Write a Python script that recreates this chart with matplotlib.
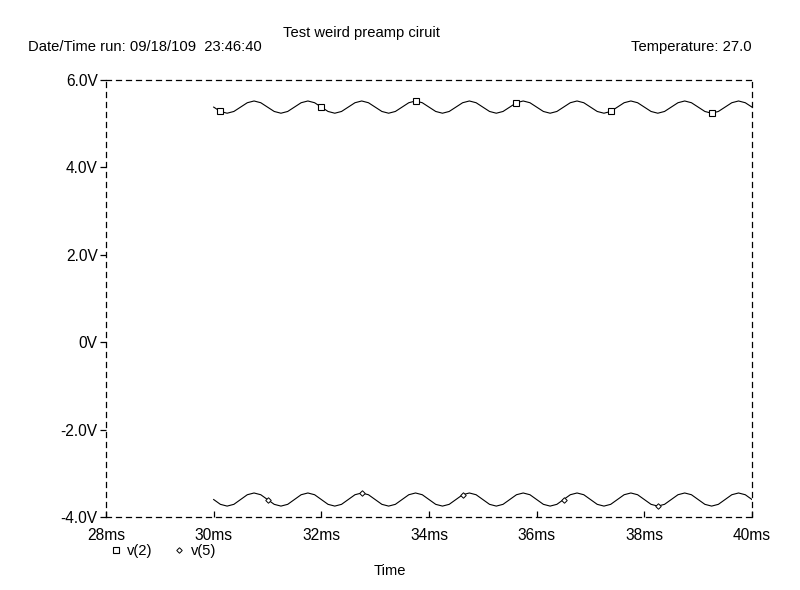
import numpy as np
import matplotlib.pyplot as plt
from matplotlib.lines import Line2D

plt.rcParams['font.family'] = ['Liberation Sans', 'DejaVu Sans']
plt.rcParams['font.size'] = 10.6

# sample times, one value every 1/8 ms from 30ms to 40ms
t_ms = np.arange(30.0, 40.0001, 0.125)

# v(2), one row per ms
v2 = [5.38, 5.28, 5.24, 5.28, 5.38, 5.48, 5.52, 5.48,
      5.38, 5.28, 5.24, 5.28, 5.38, 5.48, 5.52, 5.48,
      5.38, 5.28, 5.24, 5.28, 5.38, 5.48, 5.52, 5.48,
      5.38, 5.28, 5.24, 5.28, 5.38, 5.48, 5.52, 5.48,
      5.38, 5.28, 5.24, 5.28, 5.38, 5.48, 5.52, 5.48,
      5.38, 5.28, 5.24, 5.28, 5.38, 5.48, 5.52, 5.48,
      5.38, 5.28, 5.24, 5.28, 5.38, 5.48, 5.52, 5.48,
      5.38, 5.28, 5.24, 5.28, 5.38, 5.48, 5.52, 5.48,
      5.38, 5.28, 5.24, 5.28, 5.38, 5.48, 5.52, 5.48,
      5.38, 5.28, 5.24, 5.28, 5.38, 5.48, 5.52, 5.48,
      5.38]

# v(5)
v5 = [-3.60, -3.71, -3.75, -3.71, -3.60, -3.49, -3.45, -3.49,
      -3.60, -3.71, -3.75, -3.71, -3.60, -3.49, -3.45, -3.49,
      -3.60, -3.71, -3.75, -3.71, -3.60, -3.49, -3.45, -3.49,
      -3.60, -3.71, -3.75, -3.71, -3.60, -3.49, -3.45, -3.49,
      -3.60, -3.71, -3.75, -3.71, -3.60, -3.49, -3.45, -3.49,
      -3.60, -3.71, -3.75, -3.71, -3.60, -3.49, -3.45, -3.49,
      -3.60, -3.71, -3.75, -3.71, -3.60, -3.49, -3.45, -3.49,
      -3.60, -3.71, -3.75, -3.71, -3.60, -3.49, -3.45, -3.49,
      -3.60, -3.71, -3.75, -3.71, -3.60, -3.49, -3.45, -3.49,
      -3.60, -3.71, -3.75, -3.71, -3.60, -3.49, -3.45, -3.49,
      -3.60]

# sample indices where the trace symbols sit
v2_marks = [1, 16, 30, 45, 59, 74]
v5_marks = [8, 22, 37, 52, 66]

x_ticks = [28, 30, 32, 34, 36, 38, 40]
x_labels = ['28ms', '30ms', '32ms', '34ms', '36ms', '38ms', '40ms']
y_ticks = [-4, -2, 0, 2, 4, 6]
y_labels = ['-4.0V', '-2.0V', '0V', '2.0V', '4.0V', '6.0V']

fig = plt.figure(figsize=(8, 5.9), dpi=100)
ax = fig.add_axes([0.1325, 0.1237, 0.8075, 0.7407])

ax.plot(t_ms, v2, color='black', lw=0.8, marker='s', markersize=4,
        mfc='white', mec='black', mew=0.8, markevery=v2_marks)
ax.plot(t_ms, v5, color='black', lw=0.8, marker='D', markersize=2.8,
        mfc='white', mec='black', mew=0.7, markevery=v5_marks)

ax.set_xlim(28, 40)
ax.set_ylim(-4, 6)
ax.set_xticks(x_ticks)
ax.set_xticklabels(x_labels, fontsize=11.2)
ax.set_yticks(y_ticks)
ax.set_yticklabels(y_labels, fontsize=11.2)

for s in ax.spines.values():
    s.set_linestyle((0, (4, 4)))
    s.set_linewidth(0.9)
ax.tick_params(axis='y', direction='out', length=4, width=0.9, pad=2)
ax.tick_params(axis='x', direction='in', length=4, width=0.9, pad=8)

fig.text(0.452, 0.944, 'Test weird preamp ciruit', ha='center', va='center')
fig.text(0.035, 0.92, 'Date/Time run: 09/18/109  23:46:40', ha='left', va='center')
fig.text(0.94, 0.92, 'Temperature: 27.0', ha='right', va='center')
fig.text(0.4875, 0.033, 'Time', ha='center', va='center')

handles = [Line2D([], [], ls='none', marker='s', markersize=4, mfc='white',
                  mec='black', mew=0.8),
           Line2D([], [], ls='none', marker='D', markersize=2.8, mfc='white',
                  mec='black', mew=0.7)]
fig.legend(handles, ['v(2)', 'v(5)'], loc='center left',
           bbox_to_anchor=(0.14, 0.066), ncol=2, frameon=False,
           handlelength=0.5, handletextpad=0.5, columnspacing=1.6,
           borderpad=0, borderaxespad=0)

fig.savefig('out.png', dpi=100)
